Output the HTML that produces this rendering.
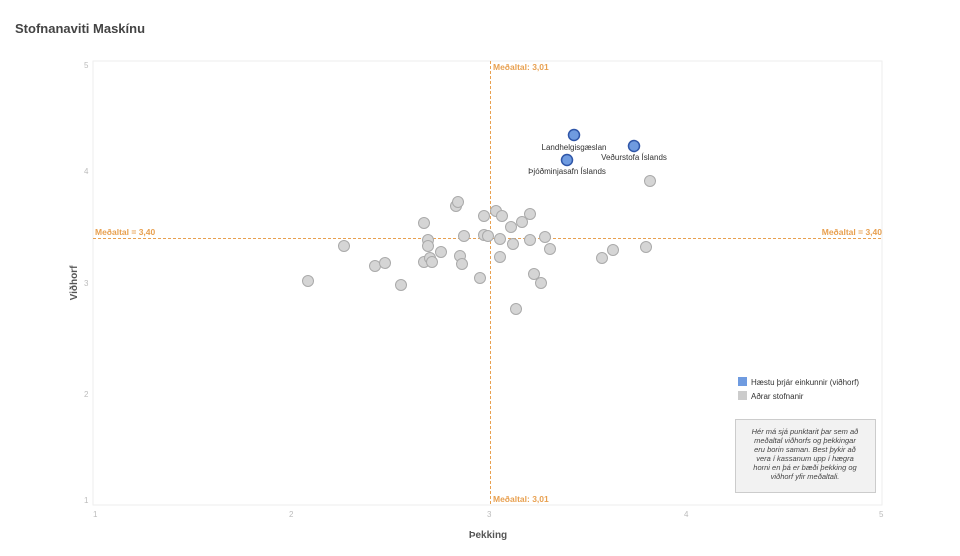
<!DOCTYPE html>
<html><head><meta charset="utf-8"><style>
body{margin:0;background:#fff;font-family:"Liberation Sans",Arial,sans-serif;}
</style></head><body>
<svg width="960" height="551" xmlns="http://www.w3.org/2000/svg" font-family="Liberation Sans, Arial, sans-serif">
<text x="15" y="33" font-size="13" font-weight="bold" fill="#444">Stofnanaviti Maskínu</text>
<rect x="93" y="61" width="789" height="444" fill="none" stroke="#eee"/>
<g font-size="8" fill="#bbb">
<text x="84" y="68">5</text><text x="84" y="174">4</text><text x="84" y="286">3</text><text x="84" y="397">2</text><text x="84" y="503">1</text>
<text x="93" y="517">1</text><text x="289" y="517">2</text><text x="487" y="517">3</text><text x="684" y="517">4</text><text x="879" y="517">5</text>
</g>
<text x="488" y="538" font-size="10" font-weight="bold" fill="#555" text-anchor="middle">Þekking</text>
<text transform="translate(77,283) rotate(-90)" font-size="10" font-weight="bold" fill="#555" text-anchor="middle">Viðhorf</text>
<line x1="93" y1="238.5" x2="882" y2="238.5" stroke="#e8a050" stroke-dasharray="3,2"/>
<line x1="490.5" y1="61" x2="490.5" y2="505" stroke="#e8a050" stroke-dasharray="3,2"/>
<g font-size="8.5" font-weight="bold" fill="#e8a050">
<text x="95" y="235">Meðaltal = 3,40</text>
<text x="882" y="235" text-anchor="end">Meðaltal = 3,40</text>
<text x="493" y="70">Meðaltal: 3,01</text>
<text x="493" y="502">Meðaltal: 3,01</text>
</g>
<g fill="#d5d5d5" stroke="#aaa" stroke-width="1">
<circle cx="308" cy="281" r="5.5"/><circle cx="344" cy="246" r="5.5"/><circle cx="375" cy="266" r="5.5"/><circle cx="385" cy="263" r="5.5"/><circle cx="401" cy="285" r="5.5"/><circle cx="424" cy="223" r="5.5"/><circle cx="424" cy="262" r="5.5"/><circle cx="428" cy="240" r="5.5"/><circle cx="428" cy="246" r="5.5"/><circle cx="430" cy="258" r="5.5"/><circle cx="432" cy="262" r="5.5"/><circle cx="441" cy="252" r="5.5"/><circle cx="456" cy="206" r="5.5"/><circle cx="458" cy="202" r="5.5"/><circle cx="460" cy="256" r="5.5"/><circle cx="462" cy="264" r="5.5"/><circle cx="464" cy="236" r="5.5"/><circle cx="480" cy="278" r="5.5"/><circle cx="484" cy="216" r="5.5"/><circle cx="484" cy="235" r="5.5"/><circle cx="488" cy="236" r="5.5"/><circle cx="496" cy="211" r="5.5"/><circle cx="500" cy="239" r="5.5"/><circle cx="500" cy="257" r="5.5"/><circle cx="502" cy="216" r="5.5"/><circle cx="511" cy="227" r="5.5"/><circle cx="513" cy="244" r="5.5"/><circle cx="516" cy="309" r="5.5"/><circle cx="522" cy="222" r="5.5"/><circle cx="530" cy="214" r="5.5"/><circle cx="530" cy="240" r="5.5"/><circle cx="534" cy="274" r="5.5"/><circle cx="541" cy="283" r="5.5"/><circle cx="545" cy="237" r="5.5"/><circle cx="550" cy="249" r="5.5"/><circle cx="602" cy="258" r="5.5"/><circle cx="613" cy="250" r="5.5"/><circle cx="646" cy="247" r="5.5"/><circle cx="650" cy="181" r="5.5"/>
</g>
<g fill="#6f9be0" stroke="#2f56a8" stroke-width="1.5">
<circle cx="574" cy="135" r="5.5"/><circle cx="567" cy="160" r="5.5"/><circle cx="634" cy="146" r="5.5"/>
</g>
<g font-size="8" fill="#333">
<text x="574" y="150" text-anchor="middle">Landhelgisgæslan</text>
<text x="567" y="174" text-anchor="middle">Þjóðminjasafn Íslands</text>
<text x="634" y="160" text-anchor="middle">Veðurstofa Íslands</text>
</g>
<rect x="738" y="377" width="9" height="9" fill="#6f9be0"/>
<rect x="738" y="391" width="9" height="9" fill="#ccc"/>
<g font-size="8" fill="#333">
<text x="751" y="385">Hæstu þrjár einkunnir (viðhorf)</text>
<text x="751" y="399">Aðrar stofnanir</text>
</g>
<rect x="735.5" y="419.5" width="140" height="73" fill="#f2f2f2" stroke="#ccc"/>
<g font-size="7.5" fill="#444" font-style="italic" text-anchor="middle">
<text x="805" y="434">Hér má sjá punktarit þar sem að</text>
<text x="805" y="443">meðaltal viðhorfs og þekkingar</text>
<text x="805" y="452">eru borin saman. Best þykir að</text>
<text x="805" y="461">vera í kassanum upp í hægra</text>
<text x="805" y="470">horni en þá er bæði þekking og</text>
<text x="805" y="479">viðhorf yfir meðaltali.</text>
</g>
</svg>
</body></html>
